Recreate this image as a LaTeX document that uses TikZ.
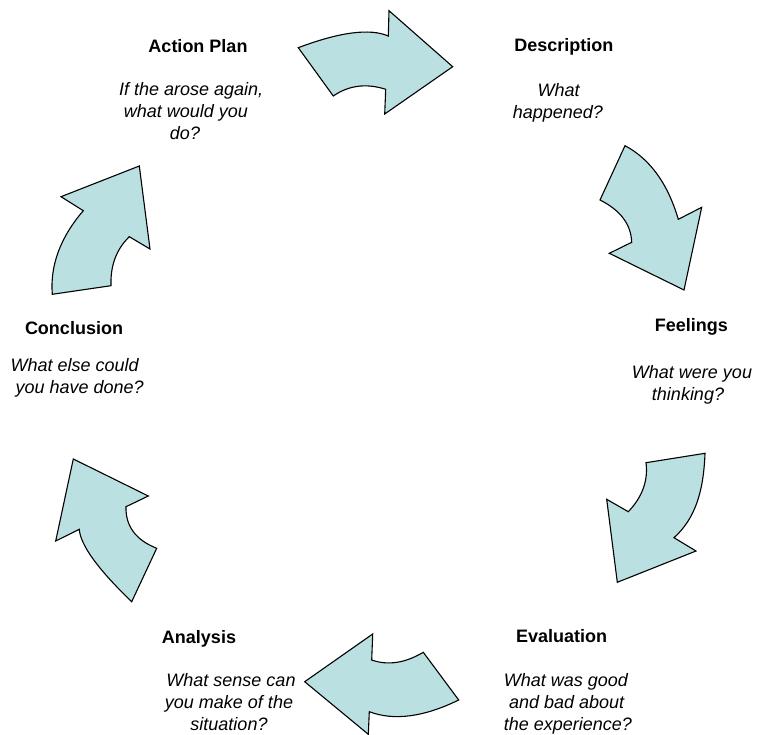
\documentclass[tikz,border=0pt]{standalone}
\usepackage{fontspec}
\setmainfont{Liberation Sans}
\definecolor{arrowfill}{RGB}{187,224,226}
\newcommand\lineat[2]{\makebox[0pt]{\hspace*{#1}#2\hspace*{-#1}}}
\tikzset{
  blockarrow/.style={draw=black, fill=arrowfill, line width=1.1pt, line join=miter},
  title/.style={anchor=base, inner sep=0pt, font=\fontsize{18}{22}\selectfont\bfseries},
  question/.style={anchor=base, inner sep=0pt, font=\fontsize{18}{22}\selectfont\itshape}
}
\newcommand\qblock[1]{\begin{tabular}[t]{@{}c@{}}#1\end{tabular}}
\begin{document}
\begin{tikzpicture}[x=1pt,y=-1pt]
\useasboundingbox (0,0) rectangle (757,735);

% Arrow 1: Action Plan -> Description
\path[blockarrow] (298.3,47.7) .. controls (339.9,32.0) and (369.9,28.1) .. (388.3,36)
  -- (389,10.7) -- (452.7,66.7) -- (384.7,114) -- (385.7,89.3)
  .. controls (366.2,83.1) and (348.8,85.3) .. (333.3,96) -- cycle;

% Arrow 2: Description -> Feelings
\path[blockarrow] (625,145.7) .. controls (649.9,158.9) and (667.7,183.4) .. (678.3,219.3)
  -- (701.7,207.3) -- (684,290) -- (609.3,253.3) -- (631.7,242.3)
  .. controls (631.1,224.4) and (620.5,210.3) .. (600,200) -- cycle;

% Arrow 3: Feelings -> Evaluation
\path[blockarrow] (705,453.3) -- (646,462.7)
  .. controls (648.3,480.5) and (642.4,496.8) .. (628.3,511.7)
  -- (606.7,499.3) -- (617.3,582.3) -- (696,551) -- (674,537.7)
  .. controls (696.1,517.8) and (703.6,489.7) .. cycle;

% Arrow 4: Evaluation -> Analysis
\path[blockarrow] (423.3,652.3) .. controls (405.0,663.1) and (387.8,665.7) .. (371.7,660)
  -- (372.7,634) -- (304.7,681.7) -- (368.3,734.3) -- (369.3,711.7)
  .. controls (393.8,721.0) and (423.6,717.1) .. (458.7,700) -- cycle;

% Arrow 5: Analysis -> Conclusion
\path[blockarrow] (73.3,459) -- (148.3,496) -- (126,506.7)
  .. controls (125.5,526.2) and (135.8,540.0) .. (156.7,548.3)
  -- (131.7,601.7)
  .. controls (98.0,569.3) and (80.5,545.2) .. (79.3,529.3)
  -- (55.7,541) -- cycle;

% Arrow 6: Conclusion -> Action Plan
\path[blockarrow] (139.3,166) -- (150,249) -- (129.3,236.7)
  .. controls (116.4,249.2) and (110.3,265.5) .. (111,285.7)
  -- (52.3,294.3)
  .. controls (50.0,265.4) and (60.3,237.5) .. (83.3,210.7)
  -- (61,196.7) -- cycle;

% Texts
\node[title] (tAction) at (198,52.3) {Action Plan};
\node[question] (qAction) at (187,96) {\qblock{\lineat{4.2pt}{If the arose again,}\\ \lineat{-1.2pt}{what would you}\\ \lineat{-2pt}{do?}}};

\node[title] (tDesc) at (563.8,51.7) {Description};
\node[question] (qDesc) at (558,96.7) {\qblock{\lineat{0.7pt}{What}\\ \lineat{-0.2pt}{happened?}}};

\node[title] (tFeel) at (691.3,331.7) {Feelings};
\node[question] (qFeel) at (690,378) {\qblock{\lineat{2pt}{What were you}\\ \lineat{-2pt}{thinking?}}};

\node[title] (tConc) at (74,334) {Conclusion};
\node[question] (qConc) at (77,371) {\qblock{\lineat{-2.3pt}{What else could}\\ \lineat{2.7pt}{you have done?}}};

\node[title] (tEval) at (561.7,642.7) {Evaluation};
\node[question] (qEval) at (566.7,686.5) {\qblock{\lineat{-0.9pt}{What was good}\\ \lineat{0pt}{and bad about}\\ \lineat{1.1pt}{the experience?}}};

\node[title] (tAnal) at (199,643) {Analysis};
\node[question] (qAnal) at (230,686.5) {\qblock{\lineat{1pt}{What sense can}\\ \lineat{-1pt}{you make of the}\\ \lineat{-1pt}{situation?}}};
\end{tikzpicture}
\end{document}
